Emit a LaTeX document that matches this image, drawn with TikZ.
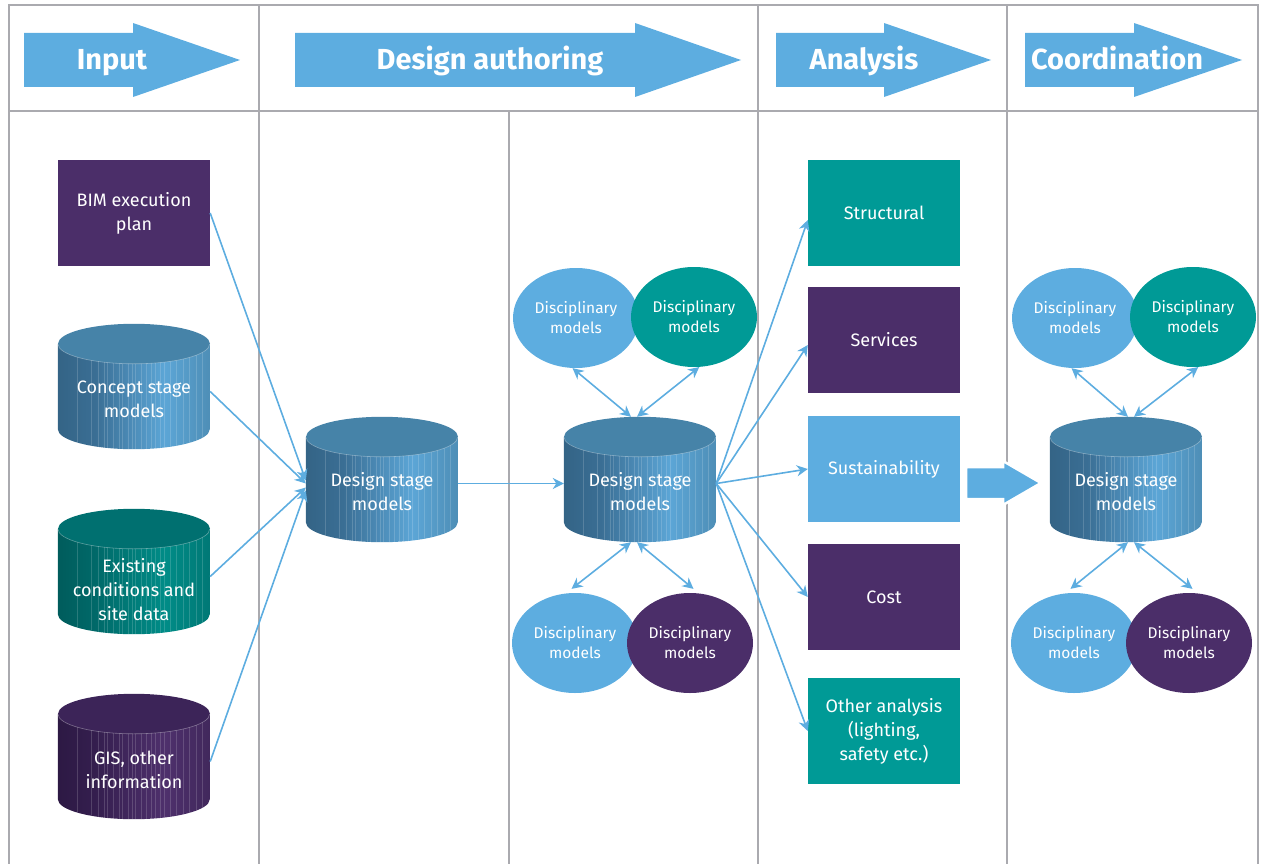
\documentclass[tikz,border=0pt]{standalone}
\usepackage{fontspec}
\setmainfont{Fira Sans}
\usetikzlibrary{arrows.meta,shapes.geometric}
\definecolor{lblue}{RGB}{93,173,224}
\definecolor{teal}{RGB}{0,154,150}
\definecolor{purp}{RGB}{75,46,105}
\definecolor{gridgray}{RGB}{170,170,175}
\definecolor{topblue}{RGB}{70,131,168}
\definecolor{topteal}{RGB}{0,112,112}
\definecolor{toppurp}{RGB}{60,36,88}
\pgfdeclarehorizontalshading{cylblue}{100bp}{rgb(0bp)=(0.204,0.392,0.525); rgb(25bp)=(0.204,0.392,0.525); rgb(37bp)=(0.227,0.431,0.58); rgb(60bp)=(0.36,0.65,0.84); rgb(75bp)=(0.306,0.557,0.714); rgb(100bp)=(0.306,0.557,0.714)}
\pgfdeclarehorizontalshading{cylteal}{100bp}{rgb(0bp)=(0,0.36,0.36); rgb(25bp)=(0,0.36,0.36); rgb(37bp)=(0,0.41,0.41); rgb(60bp)=(0,0.55,0.53); rgb(75bp)=(0,0.47,0.46); rgb(100bp)=(0,0.47,0.46)}
\pgfdeclarehorizontalshading{cylpurp}{100bp}{rgb(0bp)=(0.176,0.098,0.267); rgb(25bp)=(0.176,0.098,0.267); rgb(37bp)=(0.204,0.118,0.306); rgb(60bp)=(0.306,0.188,0.424); rgb(75bp)=(0.255,0.157,0.36); rgb(100bp)=(0.255,0.157,0.36)}
\tikzset{
  grid/.style={draw=gridgray, line width=1.5pt},
  hdr/.style={fill=lblue},
  hdrtext/.style={text=white, font=\bfseries\fontsize{29}{31}\selectfont, inner sep=0, anchor=base},
  box/.style={rectangle, minimum width=152pt, minimum height=106pt, inner sep=0, text=white, align=center, font=\fontsize{18}{24}\selectfont},
  disc/.style={ellipse, minimum width=126pt, minimum height=100pt, inner sep=0, text=white, align=center, font=\fontsize{15.5}{20}\selectfont},
  cylbox/.style={rectangle, minimum width=152pt, minimum height=125pt, inner sep=0},
  cyltext/.style={text=white, align=center, font=\fontsize{18}{24}\selectfont, inner sep=0},
  conn/.style={draw=lblue, line width=1.6pt, -{Stealth[length=11pt,width=11pt,inset=3.5pt]}},
  dconn/.style={draw=lblue, line width=1.6pt, {Stealth[length=11pt,width=11pt,inset=3.5pt]}-{Stealth[length=11pt,width=11pt,inset=3.5pt]}},
  stripe/.style={draw=white, opacity=0.16, line width=0.6pt}
}
% #1 name, #2 center, #3 shading, #4 top colour, #5 text shift, #6 text
\newcommand{\cylnode}[6]{%
  \node[cylbox] (#1) at (#2) {};
  \begin{scope}
    \clip ([yshift=-20pt]#1.north west) -- ([yshift=20pt]#1.south west)
      arc[start angle=180, end angle=360, x radius=76pt, y radius=20pt]
      -- ([yshift=-20pt]#1.north east) -- cycle;
    \shade[shading=#3] (#1.north west) rectangle (#1.south east);
    \foreach \s in {19,33,40,46,49,55,61,64,70,74,77,83,88,93,97,102,106,112,118,125,131,138,144} {
      \draw[stripe] ([xshift=\s pt]#1.north west) -- ([xshift=\s pt]#1.south west);
    }
  \end{scope}
  \fill[#4] ([yshift=-20pt]#1.north) ellipse[x radius=76pt, y radius=20pt];
  \draw[draw=white, opacity=0.35, line width=0.6pt] ([yshift=-20pt]#1.north west)
      arc[start angle=180, end angle=360, x radius=76pt, y radius=20pt];
  \node[cyltext] at ([yshift=-#5pt]#1.center) {#6};
}
\begin{document}
\begin{tikzpicture}[x=1pt, y=-1pt]
\useasboundingbox (0,0) rectangle (1264,864);
% grid
\draw[grid] (9,864) -- (9,5) -- (1258,5) -- (1258,864);
\draw[grid] (9,111) -- (1258,111);
\draw[grid] (259,5) -- (259,864);
\draw[grid] (509,111) -- (509,864);
\draw[grid] (758,5) -- (758,864);
\draw[grid] (1007,5) -- (1007,864);
% header arrows
\fill[hdr] (24,33) -- (133,33) -- (133,23) -- (240,60) -- (133,97) -- (133,87) -- (24,87) -- cycle;
\fill[hdr] (295,33) -- (635,33) -- (635,23) -- (741,60) -- (635,97) -- (635,87) -- (295,87) -- cycle;
\fill[hdr] (776,33) -- (884,33) -- (884,23) -- (991,60) -- (884,97) -- (884,87) -- (776,87) -- cycle;
\fill[hdr] (1025,33) -- (1134,33) -- (1134,23) -- (1242,60) -- (1134,97) -- (1134,87) -- (1025,87) -- cycle;
\node[hdrtext] (hin) at (112,70) {Input};
\node[hdrtext] (hda) at (490,70) {Design authoring};
\node[hdrtext] (han) at (864,70) {Analysis};
\node[hdrtext] (hco) at (1117,70) {Coordination};
% input column
\node[box, fill=purp] (bim) at (134,213) {BIM execution\\plan};
\cylnode{cc}{134,386.5}{cylblue}{topblue}{13}{Concept stage\\models}
\cylnode{ex}{134,571.5}{cylteal}{topteal}{18}{Existing\\conditions and\\site data}
\cylnode{gis}{134,756.5}{cylpurp}{toppurp}{13}{GIS, other\\information}
% design stage models
\cylnode{c2}{382,479.5}{cylblue}{topblue}{12}{Design stage\\models}
\cylnode{c3}{640,479.5}{cylblue}{topblue}{12}{Design stage\\models}
\cylnode{c5}{1126,479.5}{cylblue}{topblue}{12}{Design stage\\models}
% disciplinary models, column 3
\node[disc, fill=lblue] (d1) at (576,318) {Disciplinary\\models};
\node[disc, fill=teal] (d2) at (694,317) {Disciplinary\\models};
\node[disc, fill=lblue] (d3) at (575,643) {Disciplinary\\models};
\node[disc, fill=purp] (d4) at (690,643) {Disciplinary\\models};
% disciplinary models, column 5
\node[disc, fill=lblue] (e1) at (1075,318) {Disciplinary\\models};
\node[disc, fill=teal] (e2) at (1193,317) {Disciplinary\\models};
\node[disc, fill=lblue] (e3) at (1074,643) {Disciplinary\\models};
\node[disc, fill=purp] (e4) at (1189,643) {Disciplinary\\models};
% analysis boxes
\node[box, fill=teal] (st) at (884,213) {Structural};
\node[box, fill=purp] (se) at (884,340) {Services};
\node[box, fill=lblue] (su) at (884,469) {Sustainability};
\node[box, fill=purp] (co) at (884,597) {Cost};
\node[box, fill=teal] (ot) at (884,731) {Other analysis\\(lighting,\\safety etc.)};
% block arrow to coordination
\filldraw[fill=lblue, draw=white, line width=2.5pt] (966,467) -- (1003,467) -- (1003,461) -- (1041,483) -- (1003,505) -- (1003,499) -- (966,499) -- cycle;
% connectors: inputs
\draw[conn] (bim.east) -- ([yshift=-1pt]c2.west);
\draw[conn] ([yshift=-5pt]cc.east) -- ([yshift=-4pt]c2.west);
\draw[conn] ([yshift=-5pt]ex.east) -- ([yshift=-8pt]c2.west);
\draw[conn] ([yshift=-5pt]gis.east) -- ([yshift=-11pt]c2.west);
\draw[conn] ([yshift=-4pt]c2.east) -- ([yshift=-4pt]c3.west);
% fan to analysis
\draw[conn] ([yshift=-4pt]c3.east) -- ([yshift=-7pt]st.west);
\draw[conn] ([yshift=-4pt]c3.east) -- ([yshift=-5pt]se.west);
\draw[conn] ([yshift=-4pt]c3.east) -- (su.west);
\draw[conn] ([yshift=-4pt]c3.east) -- (co.west);
\draw[conn] ([yshift=-4pt]c3.east) -- (ot.west);
% disciplinary links column 3
\draw[dconn] (d1.-94) -- ([xshift=-9pt]c3.north);
\draw[dconn] (d2.-84) -- ([xshift=-3pt]c3.north);
\draw[dconn] ([xshift=-9pt]c3.south) -- ([yshift=4pt]d3.94);
\draw[dconn] ([xshift=-3pt]c3.south) -- ([yshift=4pt]d4.86);
% disciplinary links column 5
\draw[dconn] (e1.-94) -- ([xshift=2pt]c5.north);
\draw[dconn] (e2.-84) -- ([xshift=8pt]c5.north);
\draw[dconn] ([xshift=2pt]c5.south) -- ([yshift=4pt]e3.94);
\draw[dconn] ([xshift=8pt]c5.south) -- ([yshift=4pt]e4.86);
\end{tikzpicture}
\end{document}
